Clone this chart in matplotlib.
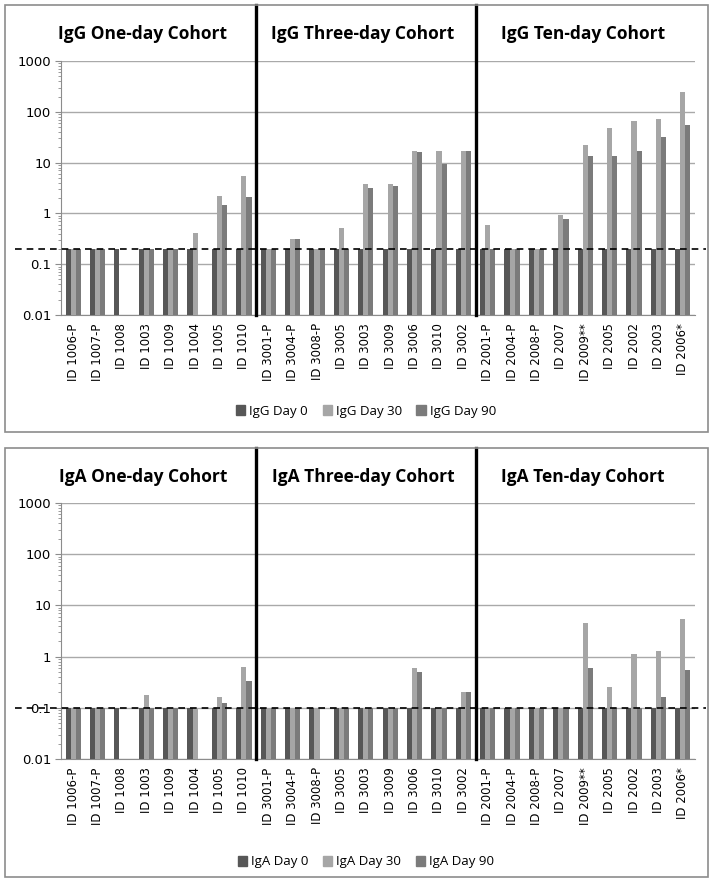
import numpy as np
import matplotlib
matplotlib.use('Agg')
import matplotlib.pyplot as plt
from matplotlib.patches import Rectangle, Patch

nan = np.nan

# sample IDs, grouped by cohort
ids = ['ID 1006-P', 'ID 1007-P', 'ID 1008', 'ID 1003', 'ID 1009', 'ID 1004', 'ID 1005', 'ID 1010',
       'ID 3001-P', 'ID 3004-P', 'ID 3008-P', 'ID 3005', 'ID 3003', 'ID 3009', 'ID 3006', 'ID 3010', 'ID 3002',
       'ID 2001-P', 'ID 2004-P', 'ID 2008-P', 'ID 2007', 'ID 2009**', 'ID 2005', 'ID 2002', 'ID 2003', 'ID 2006*']
cohort_sizes = [8, 9, 9]

# IgG titres
igg_day0 = [0.2] * 26
igg_day30 = [0.2, 0.2, nan, 0.2, 0.2, 0.41, 2.25, 5.5,
             0.2, 0.31, 0.2, 0.51, 3.8, 3.8, 16.7, 16.7, 17.2,
             0.58, 0.2, 0.2, 0.95, 22.5, 47, 66, 73, 247]
igg_day90 = [0.2, 0.2, nan, 0.2, 0.2, nan, 1.48, 2.1,
             0.2, 0.31, 0.2, 0.2, 3.2, 3.5, 16.2, 9.4, 17.2,
             0.2, 0.2, 0.2, 0.79, 13.3, 13.3, 16.7, 32, 55]
igg_cutoff = 0.2

# IgA titres
iga_day0 = [0.1] * 26
iga_day30 = [0.1, 0.1, nan, 0.18, 0.1, 0.1, 0.16, 0.63,
             0.1, 0.1, 0.1, 0.1, 0.1, 0.1, 0.59, 0.1, 0.2,
             0.1, 0.1, 0.1, 0.1, 4.5, 0.26, 1.1, 1.3, 5.5]
iga_day90 = [0.1, 0.1, nan, 0.1, 0.1, nan, 0.125, 0.34,
             0.1, 0.1, nan, 0.1, 0.1, 0.1, 0.51, 0.1, 0.2,
             0.1, 0.1, 0.1, 0.1, 0.59, 0.1, 0.1, 0.16, 0.55]
iga_cutoff = 0.1

cohorts = ['One-day Cohort', 'Three-day Cohort', 'Ten-day Cohort']
colors = ['#575757', '#a6a6a6', '#7b7b7b']

W, H = 714, 881
fig = plt.figure(figsize=(W / 100, H / 100), dpi=100)

def fx(px):
    return px / W

def fy(py):
    return 1 - py / H

def panel(ab, series, cutoff, box, y_top, y_bot, legend_y):
    # outer chart box
    fig.patches.append(Rectangle((fx(box[0]), fy(box[3])), fx(box[2] - box[0]), (box[3] - box[1]) / H,
                                 transform=fig.transFigure, fill=False, edgecolor='#8c8c8c', lw=1.2))
    ax = fig.add_axes([fx(61), fy(y_bot), fx(695 - 61), (y_bot - y_top) / H])
    x = np.arange(len(ids))
    base = 0.01
    w = 0.21
    for k, (vals, c) in enumerate(zip(series, colors)):
        v = np.array(vals, dtype=float)
        ax.bar(x + (k - 1) * w, v - base, bottom=base, width=w, color=c, zorder=3)
    ax.set_yscale('log')
    ax.set_ylim(0.01, 1000)
    ax.set_xlim(-0.5, len(ids) - 0.5)
    ax.set_yticks([0.01, 0.1, 1, 10, 100, 1000])
    ax.set_yticklabels(['0.01', '0.1', '1', '10', '100', '1000'], fontsize=9.5, family='DejaVu Sans')
    ax.set_xticks(x)
    ax.set_xticklabels(ids, rotation=90, fontsize=8.5, family='DejaVu Sans')
    ax.tick_params(axis='x', length=0, pad=6)
    ax.tick_params(axis='y', which='major', length=4, color='#8c8c8c', pad=3)
    ax.tick_params(axis='y', which='minor', length=2.5, color='#8c8c8c')
    ax.grid(axis='y', which='major', color='#a9a9a9', lw=1, zorder=1)
    for s in ['top', 'right']:
        ax.spines[s].set_visible(False)
    ax.spines['left'].set_color('#8c8c8c')
    ax.spines['bottom'].set_color('#8c8c8c')

    # cohort dividers reaching the top of the box
    ext = (y_bot - box[1]) / (y_bot - y_top)
    edges = np.cumsum(cohort_sizes)[:-1] - 0.5
    for e in edges:
        ax.plot([e, e], [0, ext], color='black', lw=2.4, transform=ax.get_xaxis_transform(),
                clip_on=False, zorder=5)

    # detection cutoff line
    x0 = (15 - 61) / (695 - 61)
    x1 = (706 - 61) / (695 - 61)
    ax.plot([x0, x1], [cutoff, cutoff], color='black', lw=1.2, ls=(0, (4, 3)),
            transform=ax.get_yaxis_transform(), clip_on=False, zorder=6)

    # cohort titles
    title_x = [143, 363, 583]
    ty = (box[1] + y_top) / 2 + 1
    for name, tx in zip(cohorts, title_x):
        fig.text(fx(tx), fy(ty), ab + ' ' + name, ha='center', va='center',
                 fontsize=12.5, fontweight='bold', family='Open Sans')

    handles = [Patch(color=c) for c in colors]
    labels = [ab + ' Day 0', ab + ' Day 30', ab + ' Day 90']
    fig.legend(handles, labels, loc='center', bbox_to_anchor=(fx(366), fy(legend_y)), ncol=3,
               frameon=False, handlelength=0.7, handleheight=0.7, handletextpad=0.3,
               columnspacing=1.1, prop={'family': 'Open Sans', 'size': 9.5})
    return ax

panel('IgG', [igg_day0, igg_day30, igg_day90], igg_cutoff, (5, 5, 708, 432), 61, 315, 411)
panel('IgA', [iga_day0, iga_day30, iga_day90], iga_cutoff, (5, 448, 708, 877), 503, 759, 862)

fig.savefig('out.png', dpi=100)
